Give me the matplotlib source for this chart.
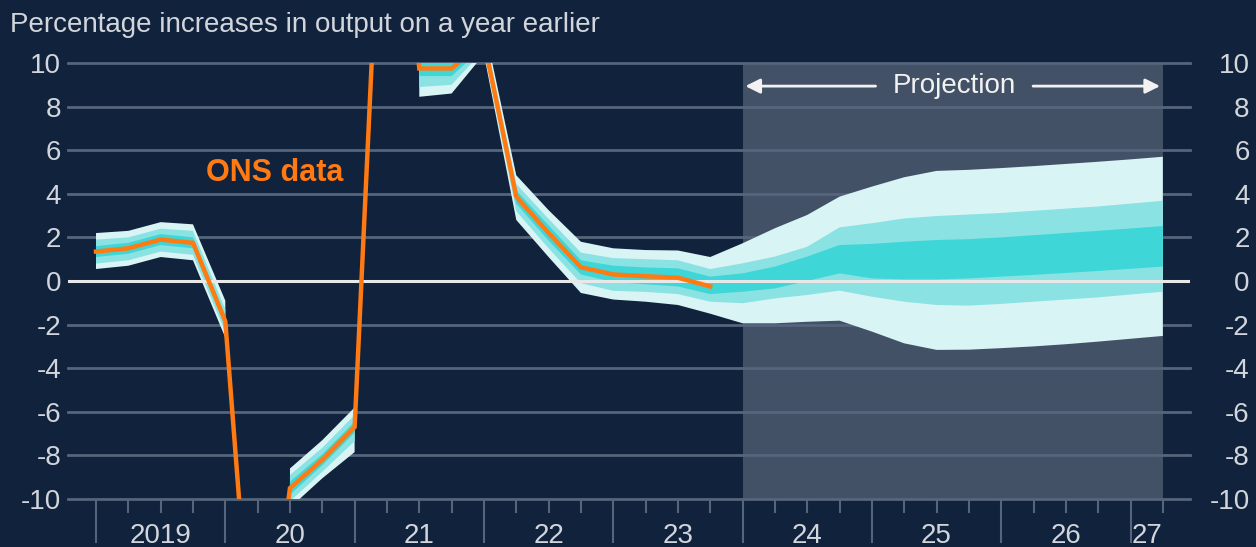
import matplotlib.pyplot as plt
import matplotlib.transforms as mtransforms
import numpy as np

plt.rcParams['font.family'] = ['Liberation Sans', 'DejaVu Sans']

nan = np.nan

# quarters from 2019 Q1 (index 0) to 2027 Q2 (index 33)
quarters = np.arange(34)

# ONS data, 2019 Q1 - 2023 Q4 (% change on a year earlier)
ons = [1.35, 1.5, 1.9, 1.75, -1.85, -21.0, -9.5, -8.2, -6.7, 25.0,
       9.75, 9.75, 11.0, 3.87, 2.2, 0.63, 0.3, 0.22, 0.15, -0.25]

# fan chart band edges
light_hi = [2.2, 2.3, 2.7, 2.6, -0.9, nan, -8.6, -7.3, -5.8, nan,
            10.6, 10.7, 11.8, 4.85, 3.25, 1.8, 1.5, 1.42, 1.4, 1.1,
            1.73, 2.42, 3.03, 3.87, 4.33, 4.76, 5.05, 5.1, 5.18, 5.27, 5.37, 5.47, 5.58, 5.7]
mid_hi = [1.9, 2.0, 2.4, 2.3, -1.3, nan, -8.9, -7.65, -6.15, nan,
          10.3, 10.35, 11.5, 4.45, 2.85, 1.3, 1.05, 1.0, 0.95, 0.55,
          0.81, 1.12, 1.57, 2.46, 2.65, 2.87, 2.98, 3.05, 3.12, 3.22, 3.32, 3.42, 3.55, 3.68]
dark_hi = [1.6, 1.75, 2.15, 2.0, -1.6, nan, -9.2, -7.95, -6.45, nan,
           10.05, 10.1, 11.25, 4.15, 2.55, 0.95, 0.7, 0.62, 0.58, 0.2,
           0.35, 0.66, 1.12, 1.65, 1.7, 1.8, 1.88, 1.92, 2.0, 2.1, 2.2, 2.3, 2.41, 2.52]
dark_lo = [1.1, 1.25, 1.65, 1.5, -2.1, nan, -9.8, -8.45, -6.95, nan,
           9.4, 9.4, 10.75, 3.55, 1.85, 0.3, -0.05, -0.15, -0.25, -0.6,
           -0.49, -0.34, 0.0, 0.35, 0.12, 0.07, 0.07, 0.12, 0.2, 0.28, 0.37, 0.46, 0.56, 0.66]
mid_lo = [0.8, 0.95, 1.35, 1.2, -2.35, nan, -10.1, -8.75, -7.35, nan,
          8.9, 9.0, 10.6, 3.2, 1.5, -0.1, -0.45, -0.5, -0.6, -0.95,
          -1.02, -0.8, -0.64, -0.44, -0.72, -0.95, -1.1, -1.13, -1.05, -0.95, -0.85, -0.75, -0.62, -0.49]
light_lo = [0.55, 0.7, 1.1, 0.95, -2.6, nan, -10.4, -9.05, -7.85, nan,
            8.45, 8.6, 10.4, 2.8, 1.1, -0.55, -0.85, -0.95, -1.1, -1.5,
            -1.94, -1.94, -1.87, -1.82, -2.32, -2.86, -3.16, -3.15, -3.08, -3.0, -2.9, -2.78, -2.65, -2.52]

year_labels = ['2019', '20', '21', '22', '23', '24', '25', '26', '27']
year_starts = [0, 4, 8, 12, 16, 20, 24, 28, 32]
y_ticks = [-10, -8, -6, -4, -2, 0, 2, 4, 6, 8, 10]
projection_start, projection_end = 20, 33

bg = '#11223c'
grid_col = '#55657b'
text_col = '#d2d6dc'
c_light, c_mid, c_dark = '#d8f4f5', '#8ae2e3', '#3ed6d7'
orange = '#ff7a12'

fig = plt.figure(figsize=(12.56, 5.47), dpi=100, facecolor=bg)
ax = fig.add_axes([68 / 1256, 48 / 547, 1122 / 1256, 436 / 547])
ax.set_facecolor(bg)
ax.set_xlim(-0.866, 33.84)
ax.set_ylim(-10, 10)

# projection shading
ax.axvspan(projection_start, projection_end, color='#435166', zorder=0, lw=0)

# horizontal grid lines
for v in y_ticks:
    if v == 0:
        continue
    ax.axhline(v, color=grid_col, lw=2, zorder=1, clip_on=False)

# fan chart
q = quarters
ax.fill_between(q, light_lo, light_hi, color=c_light, lw=0, zorder=2)
ax.fill_between(q, mid_lo, mid_hi, color=c_mid, lw=0, zorder=3)
ax.fill_between(q, dark_lo, dark_hi, color=c_dark, lw=0, zorder=4)

ax.axhline(0, color='#e8e8e8', lw=2.2, zorder=5)

ax.plot(q[:len(ons)], ons, color=orange, lw=3.2, zorder=6, solid_joinstyle='miter')

# spines off
for s in ax.spines.values():
    s.set_visible(False)

# y tick labels both sides
ax.set_yticks(y_ticks)
ax.set_yticklabels([str(v) for v in y_ticks])
ax.tick_params(axis='y', length=0, pad=5, labelsize=20, labelcolor=text_col)
sec = ax.secondary_yaxis('right')
sec.set_yticks(y_ticks)
sec.set_yticklabels([str(v) for v in y_ticks])
sec.tick_params(axis='y', length=0, pad=43, labelsize=20, labelcolor=text_col)
for s in sec.spines.values():
    s.set_visible(False)
for lbl in sec.get_yticklabels():
    lbl.set_horizontalalignment('right')

# x ticks: quarters short, years long
ax.set_xticks(year_starts)
ax.set_xticklabels([])
ax.set_xticks(quarters, minor=True)
ax.tick_params(axis='x', which='major', length=32, width=1.5, color=grid_col, direction='out')
ax.tick_params(axis='x', which='minor', length=10, width=1.5, color=grid_col, direction='out')

trans = mtransforms.blended_transform_factory(ax.transData, ax.transAxes)
for lab, st in zip(year_labels, year_starts):
    cx = min(st + 2, (st + projection_end) / 2)
    ax.text(cx, -0.084, lab, transform=trans, ha='center', va='center',
            fontsize=20, color=text_col)

# annotations
ax.text(3.4, 4.95, 'ONS data', color=orange, fontsize=22, fontweight='bold',
        ha='left', va='center', zorder=7)
ax.text(26.56, 8.94, 'Projection', color='#f2f2f2', fontsize=20,
        ha='center', va='center', zorder=7)
ax.annotate('', xy=(projection_start, 8.94), xytext=(24.2, 8.94),
            arrowprops=dict(arrowstyle='-|>', color='#f2f2f2', lw=2, mutation_scale=22), zorder=7)
ax.annotate('', xy=(projection_end, 8.94), xytext=(28.9, 8.94),
            arrowprops=dict(arrowstyle='-|>', color='#f2f2f2', lw=2, mutation_scale=22), zorder=7)

fig.text(10 / 1256, 1 - 25 / 547, 'Percentage increases in output on a year earlier',
         ha='left', va='center', fontsize=20, color=text_col)

fig.savefig('out.png', dpi=100, facecolor=bg)
